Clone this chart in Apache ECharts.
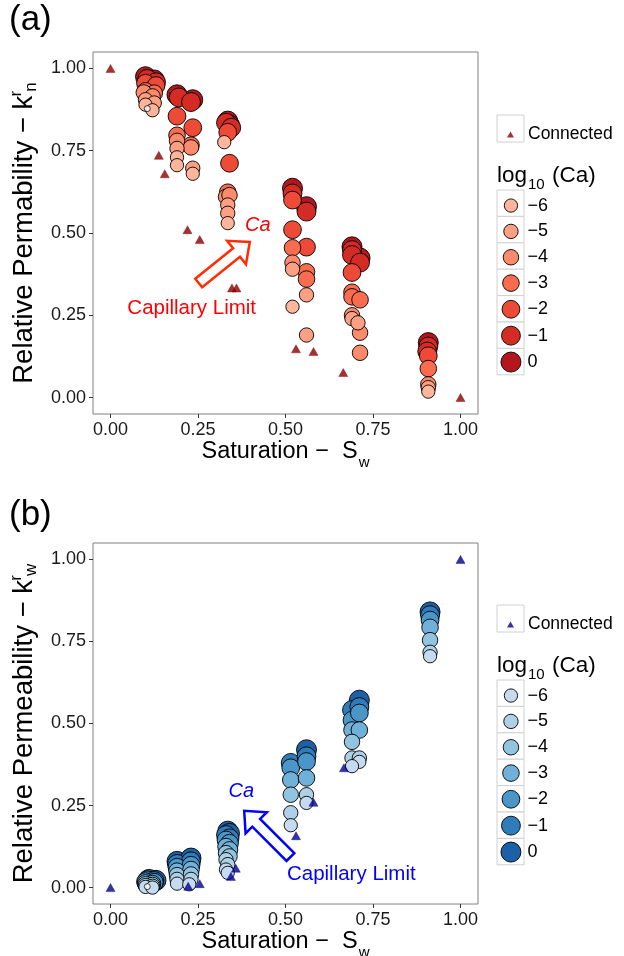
<!DOCTYPE html>
<html>
<head>
<meta charset="utf-8">
<script src="https://cdn.jsdelivr.net/npm/echarts@6/dist/echarts.min.js"></script>
<style>
  html, body { margin: 0; padding: 0; background: #fff; }
  #chart { width: 624px; height: 956px; }
</style>
</head>
<body>
<div id="chart"></div>
<script>
// Capillary number levels (log10 Ca), tick values and labels
const caLevels = [-6, -5, -4, -3, -2, -1, 0];
const caLabels = ['\u22126', '\u22125', '\u22124', '\u22123', '\u22122', '\u22121', '0'];
const tickValues = [0, 0.25, 0.5, 0.75, 1];
const tickLabels = ['0.00', '0.25', '0.50', '0.75', '1.00'];

// (a) non-wetting relative permeability k_n^r, points as [Sw, kr]
const knCaM6 = [[0.10, 0.890], [0.12, 0.873], [0.19, 0.730], [0.19, 0.706], [0.235, 0.680], [0.325, 0.776], [0.335, 0.530], [0.52, 0.276], [0.908, 0.018]];
const knCaM5 = [[0.10, 0.905], [0.125, 0.895], [0.19, 0.757], [0.235, 0.697], [0.335, 0.585], [0.335, 0.560], [0.52, 0.390], [0.56, 0.312], [0.56, 0.190], [0.69, 0.240], [0.707, 0.227], [0.908, 0.030]];
const knCaM4 = [[0.095, 0.927], [0.12, 0.915], [0.19, 0.780], [0.23, 0.760], [0.33, 0.610], [0.34, 0.615], [0.52, 0.410], [0.69, 0.250], [0.713, 0.197], [0.713, 0.136], [0.908, 0.040]];
const knCaM3 = [[0.10, 0.932], [0.125, 0.925], [0.19, 0.797], [0.23, 0.767], [0.335, 0.624], [0.52, 0.455], [0.56, 0.382], [0.56, 0.360], [0.69, 0.320], [0.69, 0.306], [0.713, 0.297], [0.908, 0.088]];
const knCaM2 = [[0.10, 0.955], [0.13, 0.948], [0.19, 0.855], [0.235, 0.820], [0.335, 0.806], [0.34, 0.712], [0.52, 0.600], [0.52, 0.510], [0.56, 0.457], [0.69, 0.380], [0.908, 0.127]];
const knCaM1 = [[0.105, 0.968], [0.13, 0.958], [0.195, 0.912], [0.23, 0.898], [0.33, 0.835], [0.345, 0.820], [0.52, 0.620], [0.56, 0.565], [0.69, 0.448], [0.69, 0.433], [0.713, 0.410], [0.908, 0.155], [0.905, 0.140]];
const knCa0 = [[0.10, 0.975], [0.125, 0.965], [0.19, 0.920], [0.235, 0.905], [0.335, 0.840], [0.34, 0.828], [0.52, 0.636], [0.56, 0.580], [0.69, 0.458], [0.713, 0.424], [0.908, 0.167]];
const knUnset = [[0.105, 0.878]];
const knConnected = [[0, 1.0], [0.138, 0.736], [0.155, 0.680], [0.22, 0.510], [0.255, 0.480], [0.347, 0.333], [0.36, 0.333], [0.53, 0.148], [0.58, 0.140], [0.665, 0.076], [1.0, 0.0]];

// (b) wetting relative permeability k_w^r, points as [Sw, kr]
const kwCaM6 = [[0.10, 0.002], [0.12, 0.000], [0.19, 0.012], [0.225, 0.010], [0.33, 0.055], [0.335, 0.045], [0.56, 0.258], [0.515, 0.190], [0.711, 0.383], [0.69, 0.370], [0.913, 0.705]];
const kwCaM5 = [[0.10, 0.006], [0.12, 0.004], [0.19, 0.025], [0.23, 0.025], [0.33, 0.085], [0.335, 0.070], [0.56, 0.283], [0.515, 0.228], [0.69, 0.395], [0.711, 0.395], [0.913, 0.717]];
const kwCaM4 = [[0.10, 0.010], [0.12, 0.008], [0.19, 0.038], [0.23, 0.040], [0.33, 0.105], [0.34, 0.095], [0.515, 0.283], [0.69, 0.444], [0.913, 0.754]];
const kwCaM3 = [[0.10, 0.014], [0.12, 0.012], [0.19, 0.050], [0.23, 0.055], [0.33, 0.125], [0.34, 0.115], [0.515, 0.328], [0.56, 0.334], [0.69, 0.480], [0.711, 0.480], [0.913, 0.793]];
const kwCaM2 = [[0.10, 0.018], [0.125, 0.016], [0.19, 0.062], [0.23, 0.068], [0.33, 0.145], [0.34, 0.135], [0.515, 0.365], [0.56, 0.384], [0.69, 0.510], [0.711, 0.532], [0.913, 0.815]];
const kwCaM1 = [[0.105, 0.022], [0.125, 0.020], [0.19, 0.072], [0.23, 0.080], [0.33, 0.160], [0.34, 0.150], [0.515, 0.380], [0.56, 0.400], [0.69, 0.541], [0.711, 0.550], [0.913, 0.830]];
const kwCa0 = [[0.11, 0.025], [0.13, 0.022], [0.19, 0.080], [0.23, 0.090], [0.335, 0.172], [0.34, 0.165], [0.56, 0.420], [0.711, 0.571], [0.913, 0.840]];
const kwUnset = [[0.105, 0.003]];
const kwConnected = [[0, 0.0], [0.222, 0.004], [0.255, 0.012], [0.344, 0.034], [0.358, 0.059], [0.53, 0.158], [0.58, 0.260], [0.667, 0.365], [1.0, 1.0]];

const knByLevel = [knCaM6, knCaM5, knCaM4, knCaM3, knCaM2, knCaM1, knCa0];
const kwByLevel = [kwCaM6, kwCaM5, kwCaM4, kwCaM3, kwCaM2, kwCaM1, kwCa0];

// Styling
const FONT = '"Liberation Sans", Arial, Helvetica, sans-serif';
const redShades = ['#FDB59B', '#FCA084', '#FC8B6D', '#F96C50', '#EE4A38', '#D42B25', '#B3171D'];
const blueShades = ['#C6DBEF', '#AED1E7', '#93C4DF', '#71B0D8', '#4A96C9', '#2F7CBB', '#1C60A7'];
const pointSizes = [13.3, 14.4, 15.5, 16.6, 17.8, 18.9, 20];

const KEY_X = 497, KEY_W = 27, KEY_H = 26.4, KEY_CX = 510.5, LABEL_X = 527;

const panels = [
  { key: 'a', grid: { left: 93, top: 52, width: 385, height: 362 }, levels: knByLevel, unset: knUnset,
    connected: knConnected, shades: redShades, triColor: '#8B0000', legendTop: 115, accent: '#FF0000', arrow: '#FF2D00',
    yName: '{t|Relative Permability \u2212 k}{sup|r}{sub|n}',
    arrowTail: [0.252, 0.348], arrowTip: [0.398, 0.473], caAt: [0.421, 0.524], limitAt: [0.232, 0.27], label: '(a)', labelTop: 3 },
  { key: 'b', grid: { left: 93, top: 543, width: 385, height: 361 }, levels: kwByLevel, unset: kwUnset,
    connected: kwConnected, shades: blueShades, triColor: '#00008B', legendTop: 605, accent: '#0000FF', arrow: '#0000FF',
    yName: '{t|Relative Permeability \u2212 k}{sup|r}{sub|w}',
    arrowTail: [0.514, 0.093], arrowTip: [0.382, 0.234], caAt: [0.374, 0.293], limitAt: [0.688, 0.04], label: '(b)', labelTop: 498 }
];

const grids = [], xAxes = [], yAxes = [], series = [], legends = [], titles = [];
const labelOf = {};

panels.forEach((p, gi) => {
  grids.push(Object.assign({ show: true, borderColor: '#808080', borderWidth: 1, backgroundColor: '#fff',
    containLabel: false, outerBoundsMode: 'none' }, p.grid));

  const axisCommon = {
    gridIndex: gi, type: 'value', min: -0.05, max: 1.05,
    splitLine: { show: false },
    axisLine: { show: false, onZero: false },
    axisTick: { show: true, inside: false, length: 4, customValues: tickValues, lineStyle: { color: '#333', width: 1 } },
    axisLabel: { customValues: tickValues, margin: 7, fontFamily: FONT, fontSize: 18, color: '#1a1a1a',
      formatter: v => tickLabels[tickValues.findIndex(t => Math.abs(t - v) < 1e-9)] },
    nameLocation: 'middle'
  };
  xAxes.push(Object.assign({}, axisCommon, {
    position: 'bottom',
    name: '{t|Saturation \u2212  S}{sub|w}', nameGap: 26,
    nameTextStyle: { fontFamily: FONT, fontSize: 23, color: '#000',
      rich: { t: { fontFamily: FONT, fontSize: 23.5, color: '#000' },
              sub: { fontFamily: FONT, fontSize: 15, color: '#000', verticalAlign: 'bottom', padding: [0, 0, -6, 1] } } }
  }));
  yAxes.push(Object.assign({}, axisCommon, {
    position: 'left',
    name: p.yName, nameGap: 49,
    nameTextStyle: { fontFamily: FONT, fontSize: 27, color: '#000',
      rich: { t: { fontFamily: FONT, fontSize: 27.5, color: '#000', lineHeight: 32 },
              sup: { fontFamily: FONT, fontSize: 17, color: '#000', width: 0, verticalAlign: 'top', lineHeight: 16, padding: [0, 0, 0, 2] },
              sub: { fontFamily: FONT, fontSize: 17, color: '#000', verticalAlign: 'bottom', lineHeight: 16, padding: [0, 0, 0, 2] } } }
  }));

  // circles, darkest drawn first so the lighter ones sit on top
  for (let i = caLevels.length - 1; i >= 0; i--) {
    const name = p.key + caLevels[i];
    labelOf[name] = caLabels[i];
    series.push({
      name, type: 'scatter', xAxisIndex: gi, yAxisIndex: gi, data: p.levels[i],
      symbol: 'circle', symbolSize: pointSizes[i], z: 2,
      itemStyle: { color: p.shades[i], borderColor: '#000', borderWidth: 0.9, opacity: 1 },
      emphasis: { disabled: true }, silent: true
    });
  }
  series.push({
    name: p.key + 'NA', type: 'scatter', xAxisIndex: gi, yAxisIndex: gi, data: p.unset,
    symbol: 'circle', symbolSize: 6, z: 3,
    itemStyle: { color: '#fff', borderColor: '#000', borderWidth: 0.9 }, silent: true
  });
  const connName = p.key + 'Connected';
  labelOf[connName] = 'Connected';
  series.push({
    name: connName, type: 'scatter', xAxisIndex: gi, yAxisIndex: gi, data: p.connected,
    symbol: 'triangle', symbolSize: [9, 8], z: 4,
    itemStyle: { color: p.triColor, borderColor: p.triColor, borderWidth: 0.5 }, silent: true
  });

  // legend: connected key
  const legendText = { fontFamily: FONT, fontSize: 18, color: '#000' };
  legends.push({
    data: [{ name: connName, icon: 'triangle' }], selectedMode: false, orient: 'vertical',
    left: KEY_CX - 3.5, top: p.legendTop + 10.5, padding: 0, itemWidth: 7, itemHeight: 6,
    itemStyle: { borderWidth: 0 },
    textStyle: Object.assign({}, legendText, { fontSize: 17.5, padding: [0, 0, 0, LABEL_X + 1 - (KEY_CX + 3.5 + 5)] }),
    formatter: n => labelOf[n]
  });
  // legend: Ca level keys
  const keysTop = p.legendTop + 75;
  caLevels.forEach((lv, i) => {
    const d = pointSizes[i];
    const cy = keysTop + KEY_H / 2 + i * KEY_H;
    legends.push({
      data: [{ name: p.key + lv, icon: 'circle' }], selectedMode: false,
      left: KEY_CX - d / 2, top: cy - d / 2, padding: 0, itemWidth: d, itemHeight: d,
      itemStyle: { borderColor: '#000', borderWidth: 0.9 },
      textStyle: Object.assign({}, legendText, { padding: [0, 0, 0, LABEL_X - (KEY_CX + d / 2 + 5)] }),
      formatter: n => labelOf[n]
    });
  });

  titles.push({ text: p.label, left: 9, top: p.labelTop, padding: 0,
    textStyle: { fontFamily: FONT, fontSize: 35, fontWeight: 'normal', color: '#000' } });
  titles.push({ text: '{m|log}{s|10}{m| (Ca)}', left: 497, top: p.legendTop + 49, padding: 0,
    textStyle: { fontFamily: FONT, fontWeight: 'normal', color: '#000',
      rich: { m: { fontFamily: FONT, fontSize: 22.5, color: '#000' },
              s: { fontFamily: FONT, fontSize: 15, color: '#000', verticalAlign: 'bottom', padding: [0, 1, -5, 1] } } } });
});

const chart = echarts.init(document.getElementById('chart'), null, { renderer: 'canvas' });
chart.setOption({
  animation: false,
  backgroundColor: '#fff',
  title: titles,
  grid: grids,
  xAxis: xAxes,
  yAxis: yAxes,
  legend: legends,
  series: series
});

// Block arrow outline from tail to tip, in pixels
function blockArrow(T, P, shaftHalf, headHalf, headLen) {
  const dx = P[0] - T[0], dy = P[1] - T[1];
  const len = Math.hypot(dx, dy);
  const ux = dx / len, uy = dy / len, nx = -uy, ny = ux;
  const B = [P[0] - ux * headLen, P[1] - uy * headLen];
  return [
    [T[0] + nx * shaftHalf, T[1] + ny * shaftHalf],
    [B[0] + nx * shaftHalf, B[1] + ny * shaftHalf],
    [B[0] + nx * headHalf, B[1] + ny * headHalf],
    P,
    [B[0] - nx * headHalf, B[1] - ny * headHalf],
    [B[0] - nx * shaftHalf, B[1] - ny * shaftHalf],
    [T[0] - nx * shaftHalf, T[1] - ny * shaftHalf]
  ];
}

const elements = [];
panels.forEach((p, gi) => {
  // key backgrounds
  elements.push({ type: 'rect', z: 0, shape: { x: KEY_X, y: p.legendTop, width: KEY_W, height: 27 },
    style: { fill: '#fff', stroke: '#d0d0d0', lineWidth: 1 } });
  for (let i = 0; i < caLevels.length; i++) {
    elements.push({ type: 'rect', z: 0, shape: { x: KEY_X, y: p.legendTop + 75 + i * KEY_H, width: KEY_W, height: KEY_H },
      style: { fill: '#fff', stroke: '#d0d0d0', lineWidth: 1 } });
  }
  const toPx = v => chart.convertToPixel({ gridIndex: gi }, v);
  elements.push({ type: 'polygon', z: 10,
    shape: { points: blockArrow(toPx(p.arrowTail), toPx(p.arrowTip), 5.5, 15, 17) },
    style: { fill: '#fff', stroke: p.arrow, lineWidth: 2.5, lineJoin: 'miter' } });
  const ca = toPx(p.caAt), lim = toPx(p.limitAt);
  elements.push({ type: 'text', z: 10, x: ca[0], y: ca[1],
    style: { text: 'Ca', fill: p.accent, font: 'italic 20px ' + FONT, align: 'center', verticalAlign: 'middle' } });
  elements.push({ type: 'text', z: 10, x: lim[0], y: lim[1],
    style: { text: 'Capillary Limit', fill: p.accent, font: '20.5px ' + FONT, align: 'center', verticalAlign: 'middle' } });
});
chart.setOption({ graphic: { elements } });
</script>
</body>
</html>
